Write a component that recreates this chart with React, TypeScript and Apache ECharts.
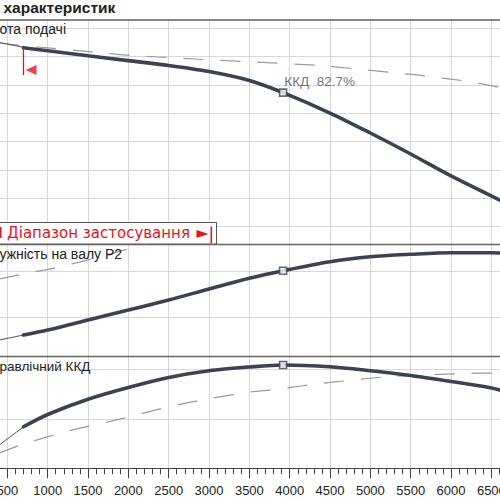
import React, { useEffect, useRef } from 'react';
import * as echarts from 'echarts';

const FONT = '"Liberation Sans", Arial, sans-serif';
const WIDE_FONT = '"DejaVu Sans", Verdana, sans-serif';

// Texts
const TITLE = 'характеристик';
const HEAD_LABEL = 'ота подачі';
const POWER_LABEL = 'ужність на валу P2';
const EFF_LABEL = 'равлічний ККД';
const RANGE_LABEL = 'Діапазон застосування';
const RANGE_ARROW = '►';
const DUTY_LABEL = 'ККД  82.7%';

// Flow axis (m³/h)
const FLOW_MIN = 0;
const FLOW_MAX = 7000;
const FLOW_STEP = 500;

// Duty point
const dutyQ = 3918;
const dutyH = 21.46;
const dutyP = 200.3;
const dutyEta = 81.6;

// Application range start
const rangeStartQ = 700;
const rangeMarkTop = 24.63;
const rangeMarkBottom = 22.7;
const rangeArrowQ = 794;
const rangeArrowH = 23.06;

// Head curve (m)
const headThinQ = [400, 700];
const headThinH = [25.0, 24.66];
const headQ = [700, 1000, 1500, 2000, 2500, 3000, 3500, 3918, 4500, 5000, 5500, 6000, 6650];
const headH = [24.63, 24.42, 24.06, 23.72, 23.38, 22.95, 22.32, 21.46, 20.02, 18.61, 17.13, 15.58, 13.75];
const headDashQ = [400, 700, 1230, 1670, 2130, 2600, 3050, 3510, 4380, 4810, 5270, 5750, 6210, 6650];
const headDashH = [24.98, 24.76, 24.51, 24.26, 24.05, 23.91, 23.76, 23.64, 23.37, 23.14, 22.88, 22.6, 22.25, 21.78];

// Shaft power P2 (kW)
const powerThinQ = [400, 700];
const powerThinP = [126.1, 131.4];
const powerQ = [700, 1000, 1500, 2000, 2500, 3000, 3500, 3918, 4500, 5000, 5500, 6000, 6500, 6650];
const powerP = [131.4, 136.8, 147.5, 158.2, 168.9, 180.7, 192.2, 200.3, 210.0, 215.3, 217.9, 219.6, 219.6, 219.0];
const powerDashQ = [400, 700, 1250, 2230, 2600];
const powerDashP = [191.4, 196.8, 206.4, 228.9, 237.5];

// Hydraulic efficiency (%)
const effThinQ = [400, 700];
const effThinEta = [49.6, 56.9];
const effQ = [700, 1000, 1500, 2000, 2500, 3000, 3500, 3918, 4500, 5000, 5500, 6000, 6500, 6650];
const effEta = [56.9, 61.8, 67.9, 72.6, 76.6, 79.3, 80.8, 81.6, 80.9, 79.3, 77.4, 75.0, 72.4, 71.2];
const effDashQ = [400, 700, 1230, 1740, 2050, 2520, 3010, 3510, 3870, 4330, 4790, 5240, 5700, 6170, 6650];
const effDashEta = [46.4, 50.0, 55.0, 58.8, 61.2, 65.0, 68.2, 70.8, 72.0, 74.0, 75.6, 77.0, 77.6, 78.2, 78.4];

// Y ranges (visible window of each panel) and grid steps
const headRange = [10.774, 26.588];
const headStep = 2;
const powerRange = [108.94, 228.93];
const powerStep = 50;
const effRange = [40.3, 85.2];
const effStep = 20;

const pairs = (xs: number[], ys: number[]) => xs.map((x, i) => [x, ys[i]]);

const CURVE = '#3a4450';
const DASH = '#9a9a9a';
const RED = '#e8141b';
const GRID_LINE = '#d9d9d9';
const BORDER = '#666';

export default function App() {
  const ref = useRef<HTMLDivElement>(null);
  useEffect(() => {
    if (!ref.current) return;
    const chart = echarts.init(ref.current, undefined, { renderer: 'svg' });

    const gridDef = (top: number, height: number) => ({
      left: -33, width: 564.7, top, height, outerBoundsMode: 'none', containLabel: false,
    });

    const xAxis = [0, 1, 2].map((i) => ({
      type: 'value',
      gridIndex: i,
      min: FLOW_MIN,
      max: FLOW_MAX,
      interval: FLOW_STEP,
      axisLine: { show: true, onZero: false, lineStyle: { color: i === 2 ? '#444' : BORDER, width: i === 2 ? 1.2 : 1.3 } },
      axisTick: { show: i === 2, length: 10, lineStyle: { color: '#444', width: 1 } },
      minorTick: { show: i === 2, splitNumber: 5, length: 6, lineStyle: { color: '#444', width: 1 } },
      axisLabel: {
        show: i === 2, margin: 15.5, fontSize: 13, color: '#222', fontFamily: FONT,
        formatter: (v: number) => String(v),
      },
      splitLine: { show: true, lineStyle: { color: GRID_LINE, width: 1 } },
    }));

    const yDef = (i: number, range: number[], step: number) => ({
      type: 'value',
      gridIndex: i,
      min: range[0],
      max: range[1],
      minInterval: step,
      maxInterval: step,
      splitNumber: Math.round((range[1] - range[0]) / step),
      axisLine: { show: false, onZero: false },
      axisTick: { show: false },
      axisLabel: { show: false },
      splitLine: { show: true, lineStyle: { color: GRID_LINE, width: 1 } },
    });

    const thin = (g: number, data: number[][]) => ({
      type: 'line', xAxisIndex: g, yAxisIndex: g, data, symbol: 'none', silent: true,
      lineStyle: { color: '#555', width: 1 }, z: 3,
    });
    const main = (g: number, data: number[][]) => ({
      type: 'line', xAxisIndex: g, yAxisIndex: g, data, symbol: 'none', silent: true,
      smooth: 0.3,
      lineStyle: { color: CURVE, width: 3.6, cap: 'round' }, z: 4,
    });
    const dash = (g: number, data: number[][]) => ({
      type: 'line', xAxisIndex: g, yAxisIndex: g, data, symbol: 'none', silent: true,
      smooth: 0.3,
      lineStyle: { color: DASH, width: 1.2, type: [20, 17] }, z: 2,
    });
    const duty = (g: number, v: number, label?: string) => ({
      type: 'scatter', xAxisIndex: g, yAxisIndex: g, data: [[dutyQ, v]], silent: true,
      symbol: 'rect', symbolSize: 7,
      itemStyle: { color: '#fff', borderColor: CURVE, borderWidth: 1.6 },
      label: label
        ? { show: true, formatter: label, position: [5.5, -6.5], align: 'left', verticalAlign: 'middle', fontSize: 13.5, color: '#46525e', fontFamily: FONT }
        : { show: false },
      z: 6,
    });

    const option: any = {
      animation: false,
      backgroundColor: '#fff',
      textStyle: { fontFamily: FONT },
      grid: [gridDef(20, 224), gridDef(244, 112), gridDef(356, 112.3)],
      xAxis,
      yAxis: [yDef(0, headRange, headStep), yDef(1, powerRange, powerStep), yDef(2, effRange, effStep)],
      series: [
        dash(0, pairs(headDashQ, headDashH)),
        thin(0, pairs(headThinQ, headThinH)),
        main(0, pairs(headQ, headH)),
        duty(0, dutyH, DUTY_LABEL),
        {
          type: 'line', xAxisIndex: 0, yAxisIndex: 0, silent: true, symbol: 'none',
          data: [[rangeStartQ, rangeMarkTop], [rangeStartQ, rangeMarkBottom]],
          lineStyle: { color: RED, width: 1.3 }, z: 5,
        },
        {
          type: 'scatter', xAxisIndex: 0, yAxisIndex: 0, silent: true,
          data: [[rangeArrowQ, rangeArrowH]], symbol: 'triangle', symbolRotate: 90, symbolSize: [10, 11],
          itemStyle: { color: RED }, z: 5,
        },
        dash(1, pairs(powerDashQ, powerDashP)),
        thin(1, pairs(powerThinQ, powerThinP)),
        main(1, pairs(powerQ, powerP)),
        duty(1, dutyP),
        dash(2, pairs(effDashQ, effDashEta)),
        thin(2, pairs(effThinQ, effThinEta)),
        main(2, pairs(effQ, effEta)),
        duty(2, dutyEta),
      ],
      graphic: [
        { type: 'line', z: 50, shape: { x1: 0, y1: 20, x2: 500, y2: 20 }, style: { stroke: BORDER, lineWidth: 1.5 } },
        {
          type: 'text', z: 50, x: 3.5, y: 7,
          style: { text: TITLE, fill: '#222', font: `bold 15.5px ${FONT}`, textVerticalAlign: 'middle', verticalAlign: 'middle' },
        },
        {
          type: 'text', z: 50, x: -0.5, y: 28.5,
          style: { text: HEAD_LABEL, fill: '#222', font: `14px ${FONT}`, textVerticalAlign: 'middle', verticalAlign: 'middle' },
        },
        {
          type: 'text', z: 50, x: -0.5, y: 253.5,
          style: { text: POWER_LABEL, fill: '#222', font: `14px ${FONT}`, textVerticalAlign: 'middle', verticalAlign: 'middle' },
        },
        {
          type: 'text', z: 50, x: -0.5, y: 366,
          style: { text: EFF_LABEL, fill: '#222', font: `13.5px ${FONT}`, textVerticalAlign: 'middle', verticalAlign: 'middle' },
        },
        {
          type: 'rect', z: 60, shape: { x: -5, y: 222.5, width: 221.5, height: 21.5 },
          style: { fill: '#fff', stroke: '#555', lineWidth: 1 },
        },
        { type: 'rect', z: 61, shape: { x: 0, y: 227, width: 1.5, height: 11 }, style: { fill: RED } },
        {
          type: 'text', z: 61, x: 7, y: 233,
          style: { text: RANGE_LABEL, fill: RED, font: `15px ${WIDE_FONT}`, textVerticalAlign: 'middle', verticalAlign: 'middle' },
        },
        {
          type: 'text', z: 61, x: 196.5, y: 233,
          style: { text: RANGE_ARROW, fill: RED, font: `15.5px ${WIDE_FONT}`, textVerticalAlign: 'middle', verticalAlign: 'middle' },
        },
        { type: 'rect', z: 61, shape: { x: 210.5, y: 226.5, width: 1.6, height: 16.5 }, style: { fill: RED } },
      ],
    };

    chart.setOption(option);
    return () => chart.dispose();
  }, []);

  return <div ref={ref} style={{ position: 'absolute', left: 0, top: 0, width: 500, height: 500 }} />;
}
